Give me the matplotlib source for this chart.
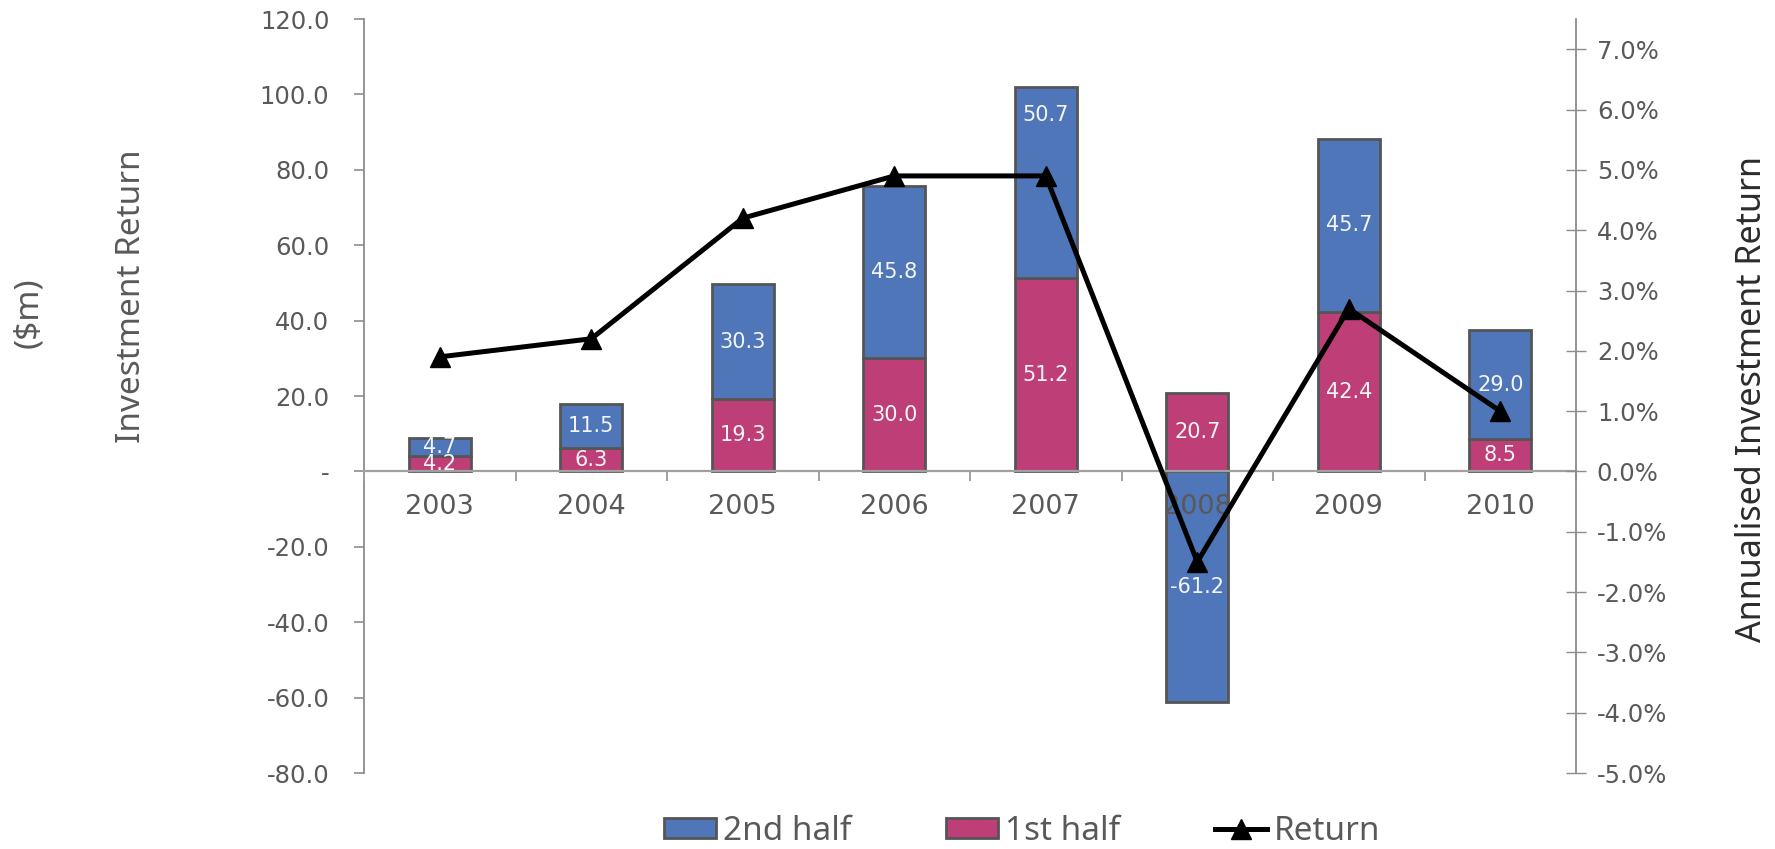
import matplotlib
matplotlib.use("Agg")
import matplotlib.pyplot as plt
from matplotlib.ticker import FuncFormatter, FixedLocator
from matplotlib.patches import Patch
from matplotlib.lines import Line2D

# Data ($m and annualised %)
years = ["2003", "2004", "2005", "2006", "2007", "2008", "2009", "2010"]
first_half = [4.2, 6.3, 19.3, 30.0, 51.2, 20.7, 42.4, 8.5]
second_half = [4.7, 11.5, 30.3, 45.8, 50.7, -61.2, 45.7, 29.0]
annual_return = [1.9, 2.2, 4.2, 4.9, 4.9, -1.5, 2.7, 1.0]

BLUE = "#4E76B8"
PINK = "#BE3F77"
EDGE = "#555555"
GREY_TXT = "#595959"
AXIS_GREY = "#8C8C8C"
TITLE_FONT = ["Noto Sans", "DejaVu Sans"]

plt.rcParams["font.family"] = ["DejaVu Sans"]

fig = plt.figure(figsize=(17.75, 8.49), dpi=100)
ax = fig.add_axes([0.2051, 0.0895, 0.6828, 0.888])
ax2 = ax.twinx()

x = list(range(len(years)))
w = 0.41

# positive second-half values stack on top of the first half; negatives hang from zero
bottoms2 = [f if s >= 0 else 0 for f, s in zip(first_half, second_half)]
ax.bar(x, first_half, w, color=PINK, edgecolor=EDGE, linewidth=2.0, zorder=1)
ax.bar(x, second_half, w, bottom=bottoms2, color=BLUE, edgecolor=EDGE, linewidth=2.0, zorder=1)

# value labels sit mid-segment; the 2007 second-half label is lifted clear of the marker
label_lift = {4: 17.9}
for i in x:
    ax.text(i, first_half[i] / 2, f"{first_half[i]:.1f}", ha="center", va="center",
            color="#F4F4F4", fontsize=15, zorder=3)
    ax.text(i, bottoms2[i] + second_half[i] / 2 + label_lift.get(i, 0),
            f"{second_half[i]:.1f}", ha="center", va="center", color="#F4F4F4",
            fontsize=15, zorder=3)

ax2.plot(x, annual_return, color="black", linewidth=3.6, marker="^", markersize=14,
         zorder=5)

# left axis
ax.set_xlim(-0.5, len(years) - 0.5)
ax.set_ylim(-80, 120)
ax.set_yticks(range(-80, 121, 20))
ax.yaxis.set_major_formatter(FuncFormatter(lambda v, p: "-" if v == 0 else f"{v:.1f}"))
ax.tick_params(axis="y", direction="out", length=7, width=1.2, color=AXIS_GREY,
               labelsize=17.5, labelcolor=GREY_TXT, pad=18)

# category axis drawn along zero, on top of the bars
ax.spines["bottom"].set_position(("data", 0))
ax.spines["bottom"].set_color("#A0A0A0")
ax.spines["bottom"].set_linewidth(1.6)
ax.spines["bottom"].set_zorder(2.6)
ax.xaxis.set_zorder(2.6)
ax.set_xticks(x)
ax.set_xticklabels(years)
ax.xaxis.set_minor_locator(FixedLocator([i - 0.5 for i in range(len(years) + 1)]))
ax.tick_params(axis="x", which="major", length=0, labelsize=19.5, labelcolor=GREY_TXT, pad=16)
ax.tick_params(axis="x", which="minor", direction="out", length=7, width=1.4, color="#A0A0A0")
ax.spines["left"].set_color(AXIS_GREY)
ax.spines["left"].set_linewidth(1.3)
for s in ("top", "right"):
    ax.spines[s].set_visible(False)

# right axis
ax2.set_ylim(-5, 7.5)
ax2.set_yticks(range(-5, 8))
ax2.yaxis.set_major_formatter(FuncFormatter(lambda v, p: f"{v:.1f}%"))
ax2.tick_params(axis="y", direction="inout", length=14, width=1.0, color=AXIS_GREY,
                labelsize=17.5, labelcolor=GREY_TXT, pad=8)
for s in ("top", "left", "bottom"):
    ax2.spines[s].set_visible(False)
ax2.spines["right"].set_color(AXIS_GREY)
ax2.spines["right"].set_linewidth(1.3)

# axis titles
fig.text(131 / 1775, 1 - 296 / 849, "Investment Return", rotation=90, ha="center",
         va="center", fontsize=24, color=GREY_TXT, family=TITLE_FONT)
fig.text(29 / 1775, 1 - 313 / 849, "($m)", rotation=90, ha="center", va="center",
         fontsize=24, color=GREY_TXT, family=TITLE_FONT)
fig.text(1752 / 1775, 1 - 399 / 849, "Annualised Investment Return", rotation=90,
         ha="center", va="center", fontsize=24.5, color="#2B2B2B", family=TITLE_FONT)

handles = [
    Patch(facecolor=BLUE, edgecolor=EDGE, linewidth=2.0),
    Patch(facecolor=PINK, edgecolor=EDGE, linewidth=2.0),
    Line2D([], [], color="black", linewidth=3.6, marker="^", markersize=14),
]
fig.legend(handles, ["2nd half", "1st half", "Return"], loc="center",
           bbox_to_anchor=(1022 / 1775, 1 - 831 / 849), ncol=3, frameon=False,
           prop={"family": TITLE_FONT, "size": 24}, labelcolor=GREY_TXT,
           handlelength=1.56, handleheight=0.54, handletextpad=0.2, columnspacing=2.85,
           borderpad=0)

fig.savefig("out.png", dpi=100)
